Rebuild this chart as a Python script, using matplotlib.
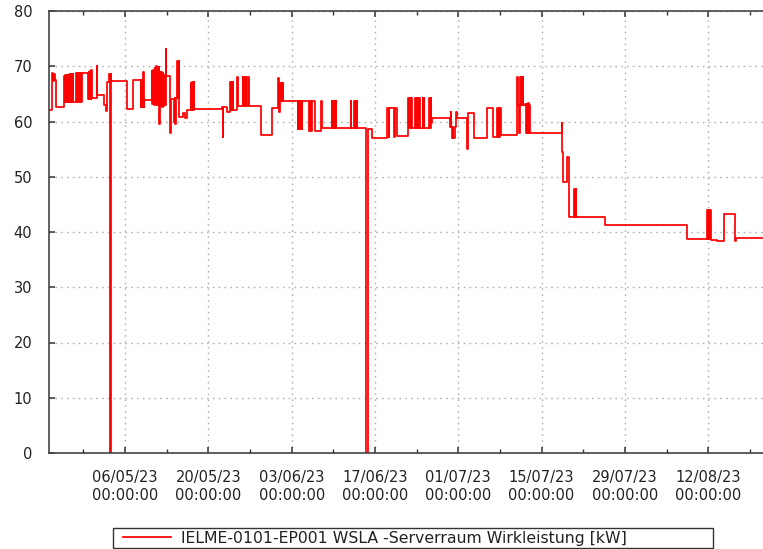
import matplotlib
matplotlib.use("Agg")
import matplotlib.pyplot as plt
import matplotlib.dates as mdates
from matplotlib.patches import Rectangle
import pandas as pd

# ---------------- data ----------------
start = pd.Timestamp("2023-04-23 05:00")
span_days = 120
series_label = "IELME-0101-EP001 WSLA -Serverraum Wirkleistung [kW]"
y_ticks = [0, 10, 20, 30, 40, 50, 60, 70, 80]
major_dates = pd.date_range("2023-05-06", periods=8, freq="14D")
minor_dates = pd.date_range("2023-04-29", periods=9, freq="14D")

# (day offset from start, kW) – step series, value holds until next point
points = [
    (0.00, 62.0), (0.45, 68.8), (0.72, 67.4), (0.89, 68.6), (0.97, 67.6), (1.13, 62.6),
    (2.52, 68.3), (2.64, 63.6), (2.76, 68.4), (2.88, 63.6), (3.00, 68.5), (3.12, 63.6),
    (3.24, 68.5), (3.36, 63.6), (3.48, 68.6), (3.60, 63.6), (3.72, 68.6), (3.84, 63.6),
    (3.96, 68.6), (4.03, 63.6),
    (4.54, 68.7), (4.66, 63.6), (4.78, 68.7), (4.90, 63.6), (5.02, 68.7), (5.14, 63.6),
    (5.26, 68.8), (5.38, 63.6), (5.50, 68.8),
    (6.56, 64.0), (6.67, 69.0), (6.79, 64.0), (6.91, 69.2), (7.03, 64.0), (7.14, 69.3),
    (7.23, 64.3), (8.02, 70.0), (8.10, 64.8),
    (9.25, 63.0), (9.58, 61.9), (9.80, 67.2), (10.15, 68.6), (10.22, 0.0), (10.34, 68.6),
    (10.50, 67.3),
    (13.16, 62.3), (14.07, 67.5),
    (15.41, 62.6), (15.53, 67.5), (15.65, 62.6), (15.77, 68.9), (15.89, 62.6), (15.97, 63.9),
    (17.26, 69.1), (17.38, 63.2), (17.50, 69.4), (17.62, 63.0), (17.74, 69.6), (17.86, 63.2),
    (17.99, 70.1), (18.10, 63.0), (18.22, 69.5), (18.34, 63.0), (18.44, 69.8), (18.54, 59.5),
    (18.62, 69.0), (18.74, 62.8), (18.86, 69.0), (18.98, 62.7), (19.10, 68.8), (19.22, 62.8),
    (19.34, 68.5), (19.46, 62.9),
    (19.58, 73.2), (19.72, 68.2), (20.39, 57.9), (20.51, 64.0),
    (21.01, 60.0), (21.10, 64.2), (21.20, 59.5), (21.30, 64.3), (21.57, 70.9), (21.70, 64.3),
    (21.80, 70.9), (21.90, 60.9),
    (22.57, 61.6), (22.86, 60.7), (23.15, 62.1),
    (23.82, 67.0), (23.94, 62.1), (24.06, 67.1), (24.18, 62.1), (24.30, 67.1), (24.38, 62.2),
    (29.03, 62.7), (29.20, 57.2), (29.32, 62.7), (29.92, 61.8),
    (30.43, 67.2), (30.55, 62.1), (30.67, 67.2), (30.79, 62.1), (30.91, 67.2), (31.00, 62.1),
    (31.65, 68.0), (31.78, 62.8),
    (32.56, 68.0), (32.68, 62.8), (32.80, 68.0), (32.92, 62.8), (33.04, 68.0), (33.16, 62.8),
    (33.50, 68.0), (33.62, 62.8),
    (35.59, 57.6), (37.54, 62.5),
    (38.55, 67.8), (38.67, 61.8), (38.84, 66.9), (38.96, 63.8), (39.08, 66.9), (39.20, 63.8),
    (39.32, 66.9), (39.40, 63.8),
    (41.81, 58.6), (41.93, 63.8), (42.05, 58.6), (42.17, 63.8), (42.29, 58.6), (42.41, 63.8),
    (42.48, 58.6), (42.55, 63.8),
    (43.71, 58.3), (43.83, 63.8), (44.04, 58.3), (44.16, 63.8), (44.71, 58.3), (45.72, 63.8),
    (45.84, 58.9),
    (47.52, 63.8), (47.64, 58.9), (47.76, 63.8), (47.88, 58.9), (48.00, 63.8), (48.12, 58.9),
    (48.19, 63.8), (48.25, 58.9),
    (50.72, 63.8), (50.82, 58.9),
    (51.27, 63.8), (51.39, 58.9), (51.51, 63.8), (51.63, 58.9), (51.75, 63.8), (51.80, 58.9),
    (53.35, 0.0), (53.55, 58.6), (54.35, 57.0),
    (56.77, 62.4), (57.10, 57.2), (57.20, 62.4), (58.04, 57.2), (58.14, 62.4), (58.41, 57.4),
    (60.40, 64.2), (60.52, 58.9), (60.64, 64.2), (60.76, 58.9), (60.88, 64.2), (60.97, 58.9),
    (61.52, 64.2), (61.64, 58.9), (61.76, 64.2), (61.88, 58.9), (62.00, 64.2), (62.12, 58.9),
    (62.20, 64.2), (62.28, 58.9),
    (62.82, 64.2), (62.94, 58.9), (63.06, 64.2), (63.10, 58.9),
    (63.93, 64.2), (64.05, 58.9), (64.17, 64.2), (64.25, 59.7), (64.38, 60.6),
    (67.41, 59.0), (67.53, 61.8), (67.63, 59.0), (67.69, 57.0), (67.85, 59.0), (67.95, 57.0),
    (68.25, 59.0), (68.42, 61.8), (68.50, 60.6),
    (70.21, 55.1), (70.35, 61.5), (71.44, 57.1),
    (73.58, 62.4), (74.55, 57.2),
    (75.31, 62.4), (75.43, 57.2), (75.55, 62.4), (75.67, 57.2), (75.79, 62.4), (75.91, 57.6),
    (78.62, 68.0), (78.74, 63.0), (79.05, 58.0), (79.20, 68.0), (79.32, 63.0), (79.44, 68.0),
    (79.56, 63.0), (79.62, 68.0), (79.74, 63.0),
    (80.02, 63.2), (80.14, 58.0), (80.26, 63.2), (80.38, 58.0), (80.50, 63.3), (80.62, 58.0),
    (80.74, 63.0), (80.80, 58.0),
    (86.18, 59.8), (86.27, 54.5), (86.35, 49.0),
    (87.13, 53.6), (87.33, 42.7),
    (88.30, 47.8), (88.42, 42.7), (88.50, 47.8), (88.58, 42.7),
    (93.46, 41.3), (107.20, 38.7),
    (110.56, 43.9), (110.70, 38.7), (110.85, 43.9), (111.00, 38.7), (111.15, 43.9), (111.23, 38.5),
    (112.34, 38.3), (113.52, 43.3), (115.32, 38.3), (115.43, 38.9), (120.00, 38.9),
]

days = [p[0] for p in points]
kw = [p[1] for p in points]
times = start + pd.to_timedelta(days, unit="D")

# ---------------- plot ----------------
plt.rcParams["font.family"] = ["DejaVu Sans"]
W, H = 763, 549
fig = plt.figure(figsize=(W / 100, H / 100), dpi=100)
ax = fig.add_axes([49 / W, 96 / H, 1 - 49 / W, (453 - 11) / H])

line, = ax.plot(times, kw, drawstyle="steps-post", color="#ff0000", lw=1.25,
                label=series_label)

ax.set_yticks(y_ticks)
ax.set_xticks(major_dates)
ax.set_xticks(minor_dates, minor=True)
ax.xaxis.set_major_formatter(mdates.DateFormatter("%d/%m/%y\n%H:%M:%S"))
ax.set_xlim(start, start + pd.Timedelta(days=span_days))
ax.set_ylim(0, 80)

for lab in ax.get_xticklabels():
    lab.set_linespacing(1.25)

ax.tick_params(axis="both", which="major", direction="in", length=4, width=1.1,
               color="#333333", labelsize=10.5, labelcolor="#222222", top=True)
ax.tick_params(axis="x", which="minor", direction="in", length=3, width=1.0,
               color="#333333", top=True)
ax.tick_params(axis="y", pad=12, right=False)
ax.tick_params(axis="x", pad=12)

ax.grid(True, which="major", color="#b0b0b0", linestyle=(0, (1.2, 3)), lw=1.0)
ax.set_axisbelow(True)

for s in ["left", "bottom", "top"]:
    ax.spines[s].set_color("#444444")
    ax.spines[s].set_linewidth(1.2)
ax.spines["right"].set_visible(False)

# legend box (frame drawn separately so it can be wider than its content)
fig.patches.append(Rectangle((113 / W, 1 / H), 600 / W, 20 / H, transform=fig.transFigure,
                             facecolor="white", edgecolor="#333333", lw=1.0, zorder=1))
leg = fig.legend(handles=[line], loc="center left",
                 bbox_to_anchor=(123 / W, 11 / H), fontsize=11.3, frameon=False,
                 borderpad=0, handlelength=3.05, handletextpad=0.62, borderaxespad=0)
leg.set_zorder(2)
for t in leg.get_texts():
    t.set_color("#222222")

fig.savefig("out.png", dpi=100)
